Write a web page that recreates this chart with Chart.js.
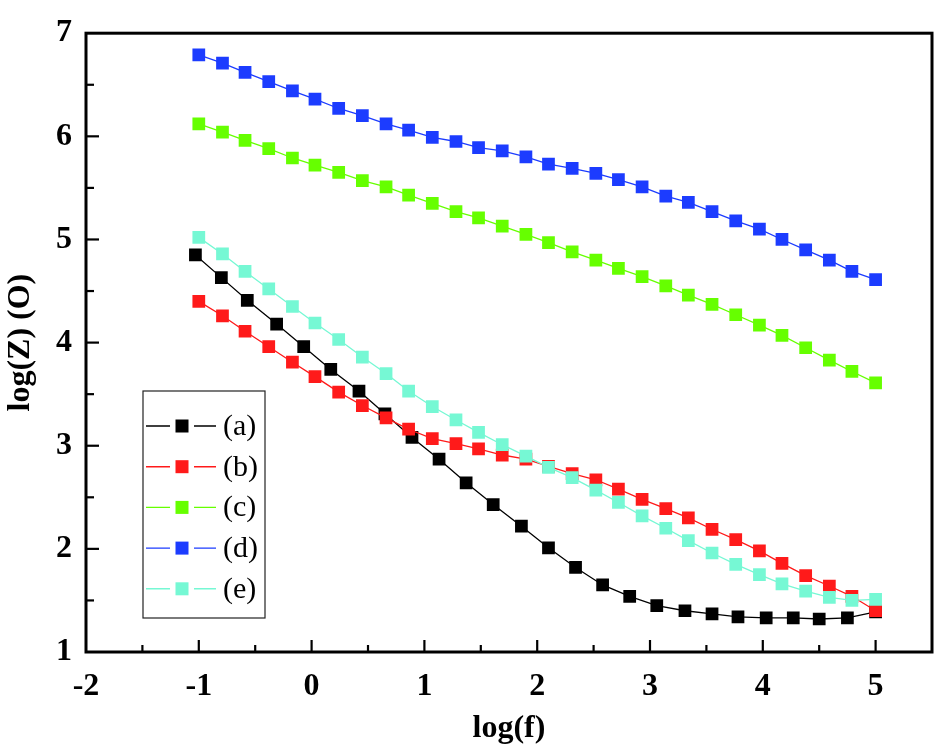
<!DOCTYPE html>
<html lang="en">
<head>
    <meta charset="UTF-8">
    <title>log(Z) vs log(f)</title>
    <style>
        body { margin: 0; background: #fff; }
        #wrap { width: 945px; height: 751px; position: relative; }
    </style>
</head>
<body>
    <div id="wrap">
        <canvas id="chart"></canvas>
    </div>

    <script src="https://cdn.jsdelivr.net/npm/chart.js"></script>
    <script>
        // x positions (log f) of the points
        const xA = [-1.03, -0.80, -0.57, -0.31, -0.07, 0.17, 0.42, 0.65, 0.89, 1.13, 1.37, 1.61, 1.86,
                    2.10, 2.34, 2.58, 2.82, 3.06, 3.31, 3.55, 3.78, 4.03, 4.27, 4.50, 4.75, 5.00];
        const xOther = [-1.00, -0.79, -0.59, -0.38, -0.17, 0.03, 0.24, 0.45, 0.66, 0.86, 1.07, 1.28, 1.48, 1.69, 1.90,
                        2.10, 2.31, 2.52, 2.72, 2.93, 3.14, 3.34, 3.55, 3.76, 3.97, 4.17, 4.38, 4.59, 4.79, 5.00];

        // log(Z) values
        const seriesA = [4.85, 4.63, 4.41, 4.18, 3.96, 3.74, 3.53, 3.31, 3.08, 2.87, 2.64, 2.43, 2.22,
                         2.01, 1.82, 1.65, 1.54, 1.45, 1.40, 1.37, 1.34, 1.33, 1.33, 1.32, 1.33, 1.39];
        const seriesB = [4.40, 4.26, 4.11, 3.96, 3.81, 3.67, 3.52, 3.39, 3.27, 3.16, 3.07, 3.02, 2.97, 2.91, 2.87,
                         2.80, 2.73, 2.67, 2.58, 2.48, 2.39, 2.30, 2.19, 2.09, 1.98, 1.86, 1.74, 1.64, 1.54, 1.40];
        const seriesC = [6.12, 6.04, 5.96, 5.88, 5.79, 5.72, 5.65, 5.57, 5.51, 5.43, 5.35, 5.27, 5.21, 5.13, 5.05,
                         4.97, 4.88, 4.80, 4.72, 4.64, 4.55, 4.46, 4.37, 4.27, 4.17, 4.07, 3.95, 3.83, 3.72, 3.61];
        const seriesD = [6.79, 6.71, 6.62, 6.53, 6.44, 6.36, 6.27, 6.20, 6.12, 6.06, 5.99, 5.95, 5.89, 5.86, 5.80,
                         5.73, 5.69, 5.64, 5.58, 5.51, 5.42, 5.36, 5.27, 5.18, 5.10, 5.00, 4.90, 4.80, 4.69, 4.61];
        const seriesE = [5.02, 4.86, 4.69, 4.52, 4.35, 4.19, 4.03, 3.86, 3.70, 3.53, 3.38, 3.25, 3.13, 3.01, 2.90,
                         2.79, 2.69, 2.57, 2.45, 2.32, 2.20, 2.08, 1.96, 1.85, 1.75, 1.66, 1.59, 1.53, 1.50, 1.51];

        const seriesLabels = ["(a)", "(b)", "(c)", "(d)", "(e)"];
        const seriesColors = ["#000000", "#ff1a1a", "#66ff00", "#1c3cff", "#76f8d4"];

        const xTickValues = [-2, -1, 0, 1, 2, 3, 4, 5];
        const yTickValues = [1, 2, 3, 4, 5, 6, 7];

        const toPoints = (xs, ys) => xs.map((x, i) => ({ x: x, y: ys[i] }));

        const seriesX = [xA, xOther, xOther, xOther, xOther];
        const seriesY = [seriesA, seriesB, seriesC, seriesD, seriesE];

        const datasets = seriesLabels.map((label, i) => ({
            label: label,
            data: toPoints(seriesX[i], seriesY[i]),
            borderColor: seriesColors[i],
            backgroundColor: seriesColors[i],
            borderWidth: 1.3,
            pointStyle: "rect",
            pointRadius: 9,
            pointBorderWidth: 0,
            pointBackgroundColor: seriesColors[i],
            order: seriesLabels.length - i, // later series drawn on top
        }));

        const serif = "'Liberation Serif', 'Times New Roman', serif";

        // frame, inward ticks and the boxed legend
        const framePlugin = {
            id: "frame",
            afterDraw(chart) {
                const ctx = chart.ctx;
                const a = chart.chartArea;
                const xs = chart.scales.x;
                const ys = chart.scales.y;
                ctx.save();
                ctx.strokeStyle = "#000";
                ctx.lineWidth = 2.2;
                ctx.lineCap = "butt";

                const halves = (vals) => {
                    const out = [];
                    vals.forEach((v, i) => {
                        out.push({ v: v, major: true });
                        if (i < vals.length - 1) out.push({ v: (v + vals[i + 1]) / 2, major: false });
                    });
                    return out;
                };

                halves(xTickValues).forEach((t) => {
                    const px = xs.getPixelForValue(t.v);
                    if (px <= a.left + 1) return;
                    ctx.beginPath();
                    ctx.moveTo(px, a.bottom);
                    ctx.lineTo(px, a.bottom - (t.major ? 12 : 7));
                    ctx.stroke();
                });
                halves(yTickValues).forEach((t) => {
                    const py = ys.getPixelForValue(t.v);
                    if (py >= a.bottom - 1 || py <= a.top + 1) return;
                    ctx.beginPath();
                    ctx.moveTo(a.left, py);
                    ctx.lineTo(a.left + (t.major ? 13 : 8), py);
                    ctx.stroke();
                });

                ctx.lineWidth = 3;
                ctx.strokeRect(a.left, a.top, a.right - a.left, a.bottom - a.top);

                // legend box
                const box = { left: 143, top: 391, right: 265, bottom: 618 };
                ctx.fillStyle = "#fff";
                ctx.fillRect(box.left, box.top, box.right - box.left, box.bottom - box.top);
                ctx.lineWidth = 1.2;
                ctx.strokeStyle = "#222";
                ctx.strokeRect(box.left, box.top, box.right - box.left, box.bottom - box.top);

                ctx.font = "30px " + serif;
                ctx.textBaseline = "middle";
                ctx.textAlign = "left";
                chart.data.datasets.forEach((ds, i) => {
                    const y = 426 + i * 40.7;
                    ctx.strokeStyle = ds.borderColor;
                    ctx.lineWidth = 1.4;
                    ctx.beginPath();
                    ctx.moveTo(146, y);
                    ctx.lineTo(170, y);
                    ctx.moveTo(194, y);
                    ctx.lineTo(216, y);
                    ctx.stroke();
                    ctx.fillStyle = ds.backgroundColor;
                    ctx.fillRect(175.5, y - 6.5, 13, 13);
                    ctx.fillStyle = "#000";
                    ctx.fillText(ds.label, 223, y + 1);
                });
                ctx.restore();
            },
        };

        const ctx = document.getElementById("chart").getContext("2d");

        new Chart(ctx, {
            type: "scatter",
            data: { datasets: datasets },
            options: {
                responsive: true,
                maintainAspectRatio: false,
                animation: false,
                showLine: true,
                layout: { padding: { top: 30, right: 13, left: 0, bottom: 0 } },
                plugins: {
                    legend: { display: false },
                    tooltip: { enabled: false },
                },
                scales: {
                    x: {
                        type: "linear",
                        min: -2,
                        max: 5.5,
                        grid: { display: false, drawTicks: false },
                        border: { display: false },
                        afterBuildTicks: (scale) => {
                            scale.ticks = xTickValues.map((v) => ({ value: v }));
                        },
                        afterFit: (scale) => {
                            scale.height = 99;
                        },
                        ticks: {
                            color: "#000",
                            padding: 16,
                            maxRotation: 0,
                            font: { family: serif, size: 32, weight: "bold" },
                        },
                        title: {
                            display: true,
                            text: "log(f)",
                            color: "#000",
                            padding: 3,
                            font: { family: serif, size: 32, weight: "bold" },
                        },
                    },
                    y: {
                        type: "linear",
                        min: 1,
                        max: 7,
                        grid: { display: false, drawTicks: false },
                        border: { display: false },
                        afterBuildTicks: (scale) => {
                            scale.ticks = yTickValues.map((v) => ({ value: v }));
                        },
                        afterFit: (scale) => {
                            scale.width = 86;
                        },
                        ticks: {
                            color: "#000",
                            padding: 14,
                            font: { family: serif, size: 32, weight: "bold" },
                        },
                        title: {
                            display: true,
                            text: "log(Z) (O)",
                            color: "#000",
                            padding: 2,
                            font: { family: serif, size: 32, weight: "bold" },
                        },
                    },
                },
            },
            plugins: [framePlugin],
        });
    </script>
</body>
</html>
